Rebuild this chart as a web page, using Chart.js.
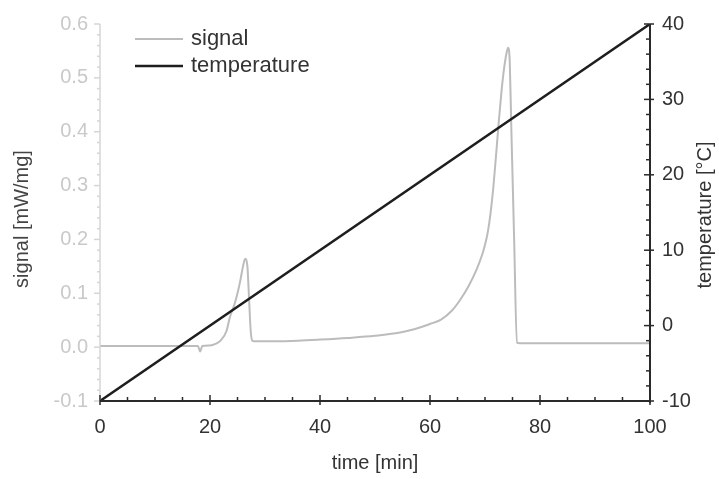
<!DOCTYPE html>
<html>
<head>
<meta charset="utf-8">
<script src="https://cdn.jsdelivr.net/npm/chart.js@4.4.1/dist/chart.umd.min.js"></script>
<style>
  html, body { margin: 0; padding: 0; background: #ffffff; }
  #wrap { width: 719px; height: 479px; }
</style>
</head>
<body>
<div id="wrap"><canvas id="c" width="719" height="479"></canvas></div>
<script>
// DSC run: heat-flow signal and programmed temperature versus time
const signalTime = [0, 5, 10, 15, 17.8, 18.2, 18.6, 20, 21, 22, 23, 23.6, 24.4, 25, 25.5, 26, 26.4, 26.8, 27.1, 27.4, 27.7, 28, 32, 36, 40, 45, 50, 55, 58, 60, 62, 64, 65.5, 67, 68.5, 69.5, 70, 70.5, 71, 71.5, 72, 72.5, 73, 73.5, 74, 74.2, 74.5, 74.8, 75.3, 75.8, 77, 85, 100];
const signalValue = [0.002, 0.002, 0.002, 0.002, 0.002, -0.008, 0.002, 0.003, 0.006, 0.013, 0.03, 0.055, 0.078, 0.1, 0.123, 0.15, 0.164, 0.15, 0.09, 0.03, 0.012, 0.011, 0.011, 0.012, 0.014, 0.017, 0.021, 0.028, 0.036, 0.043, 0.051, 0.068, 0.088, 0.113, 0.145, 0.172, 0.19, 0.213, 0.248, 0.295, 0.355, 0.418, 0.475, 0.52, 0.55, 0.556, 0.53, 0.4, 0.2, 0.008, 0.007, 0.007, 0.007];
const tempTime = [0, 100];
const tempValue = [-10, 40];

const xTicks = [0, 20, 40, 60, 80, 100];
const yTicks = [-0.1, 0.0, 0.1, 0.2, 0.3, 0.4, 0.5, 0.6];
const y1Ticks = [-10, 0, 10, 20, 30, 40];

const seriesNames = ['signal', 'temperature'];
const axisTitles = { x: 'time [min]', y: 'signal [mW/mg]', y1: 'temperature [°C]' };

const FONT = 'Liberation Sans, Arial, sans-serif';
const SIGNAL_COLOR = '#bcbcbc';
const TEMP_COLOR = '#1e1e1e';

const toPoints = (xs, ys) => xs.map((x, i) => ({ x: x, y: ys[i] }));
const fixedTicks = (values) => (scale) => { scale.ticks = values.map(v => ({ value: v })); };

// Axis lines with inward/outward major and minor tick marks
const axesPlugin = {
  id: 'axes',
  afterDatasetsDraw(chart) {
    const { ctx, chartArea: a, scales } = chart;
    ctx.save();
    ctx.lineCap = 'butt';

    // left signal axis (faint)
    ctx.strokeStyle = '#d6d6d6';
    ctx.lineWidth = 1.5;
    ctx.beginPath(); ctx.moveTo(a.left, a.top); ctx.lineTo(a.left, a.bottom); ctx.stroke();
    for (let k = 0; k <= 35; k++) {
      const v = -0.1 + k * 0.02;
      const p = scales.y.getPixelForValue(v);
      const major = k % 5 === 0;
      ctx.beginPath(); ctx.moveTo(a.left - (major ? 6 : 3), p); ctx.lineTo(a.left, p); ctx.stroke();
    }

    // bottom time axis
    ctx.strokeStyle = '#2a2a2a';
    ctx.lineWidth = 2;
    ctx.beginPath(); ctx.moveTo(a.left, a.bottom); ctx.lineTo(a.right, a.bottom); ctx.stroke();
    ctx.lineWidth = 1.5;
    for (let v = 0; v <= 100; v += 5) {
      const p = scales.x.getPixelForValue(v);
      const major = v % 20 === 0;
      ctx.beginPath(); ctx.moveTo(p, a.bottom - (major ? 6 : 4)); ctx.lineTo(p, a.bottom + (major ? 4 : 0)); ctx.stroke();
    }

    // right temperature axis
    ctx.lineWidth = 2;
    ctx.beginPath(); ctx.moveTo(a.right, a.top); ctx.lineTo(a.right, a.bottom + 2); ctx.stroke();
    ctx.lineWidth = 1.5;
    for (let v = -10; v <= 40; v += 2) {
      const p = scales.y1.getPixelForValue(v);
      const major = v % 10 === 0;
      ctx.beginPath(); ctx.moveTo(a.right - (major ? 6 : 4), p); ctx.lineTo(a.right + (major ? 4 : 0), p); ctx.stroke();
    }
    ctx.restore();
  }
};

// Vertical axis titles (both reading bottom to top) and the in-plot legend
const labelsPlugin = {
  id: 'labels',
  afterDraw(chart) {
    const { ctx } = chart;
    const vTitle = (text, x, y, color) => {
      ctx.save();
      ctx.translate(x, y);
      ctx.rotate(-Math.PI / 2);
      ctx.font = '20px ' + FONT;
      ctx.fillStyle = color;
      ctx.textAlign = 'center';
      ctx.textBaseline = 'middle';
      ctx.fillText(text, 0, 0);
      ctx.restore();
    };
    vTitle(axisTitles.y, 22, 219, '#444444');
    vTitle(axisTitles.y1, 705, 215, '#333333');

    const rows = [0, 1].map(i => chart.data.datasets.find(d => d.label === seriesNames[i]));
    ctx.save();
    ctx.font = '22px ' + FONT;
    ctx.textBaseline = 'middle';
    rows.forEach((ds, i) => {
      const y = 39 + i * 27;
      ctx.strokeStyle = ds.borderColor;
      ctx.lineWidth = ds.borderWidth;
      ctx.beginPath(); ctx.moveTo(135, y); ctx.lineTo(183, y); ctx.stroke();
      ctx.fillStyle = '#333333';
      ctx.fillText(ds.label, 191, y);
    });
    ctx.restore();
  }
};

new Chart(document.getElementById('c'), {
  type: 'line',
  data: {
    datasets: [
      {
        label: seriesNames[1],
        data: toPoints(tempTime, tempValue),
        yAxisID: 'y1',
        borderColor: TEMP_COLOR,
        borderWidth: 2.5,
        pointRadius: 0,
        order: 0
      },
      {
        label: seriesNames[0],
        data: toPoints(signalTime, signalValue),
        yAxisID: 'y',
        borderColor: SIGNAL_COLOR,
        borderWidth: 2,
        pointRadius: 0,
        cubicInterpolationMode: 'monotone',
        order: 1
      }
    ]
  },
  options: {
    responsive: false,
    animation: false,
    layout: { padding: { top: 21, left: 0, right: 0, bottom: 0 } },
    plugins: { legend: { display: false }, tooltip: { enabled: false } },
    scales: {
      x: {
        type: 'linear', position: 'bottom', min: 0, max: 100,
        afterBuildTicks: fixedTicks(xTicks),
        afterFit: (s) => { s.height = 78; },
        grid: { display: false, drawTicks: false },
        border: { display: false },
        ticks: { color: '#333333', font: { family: FONT, size: 20 }, padding: 14, maxRotation: 0 },
        title: { display: true, text: axisTitles.x, color: '#333333', font: { family: FONT, size: 20 }, padding: { top: 0, bottom: 4 } }
      },
      y: {
        type: 'linear', position: 'left', min: -0.1, max: 0.6,
        afterBuildTicks: fixedTicks(yTicks),
        afterFit: (s) => { s.width = 100; },
        grid: { display: false, drawTicks: false },
        border: { display: false },
        ticks: { color: '#c9c9c9', font: { family: FONT, size: 20 }, padding: 12, callback: (v) => v.toFixed(1) },
        title: { display: false }
      },
      y1: {
        type: 'linear', position: 'right', min: -10, max: 40,
        afterBuildTicks: fixedTicks(y1Ticks),
        afterFit: (s) => { s.width = 69; },
        grid: { display: false, drawTicks: false },
        border: { display: false },
        ticks: { color: '#333333', font: { family: FONT, size: 20 }, padding: 12 },
        title: { display: false }
      }
    }
  },
  plugins: [axesPlugin, labelsPlugin]
});
</script>
</body>
</html>
